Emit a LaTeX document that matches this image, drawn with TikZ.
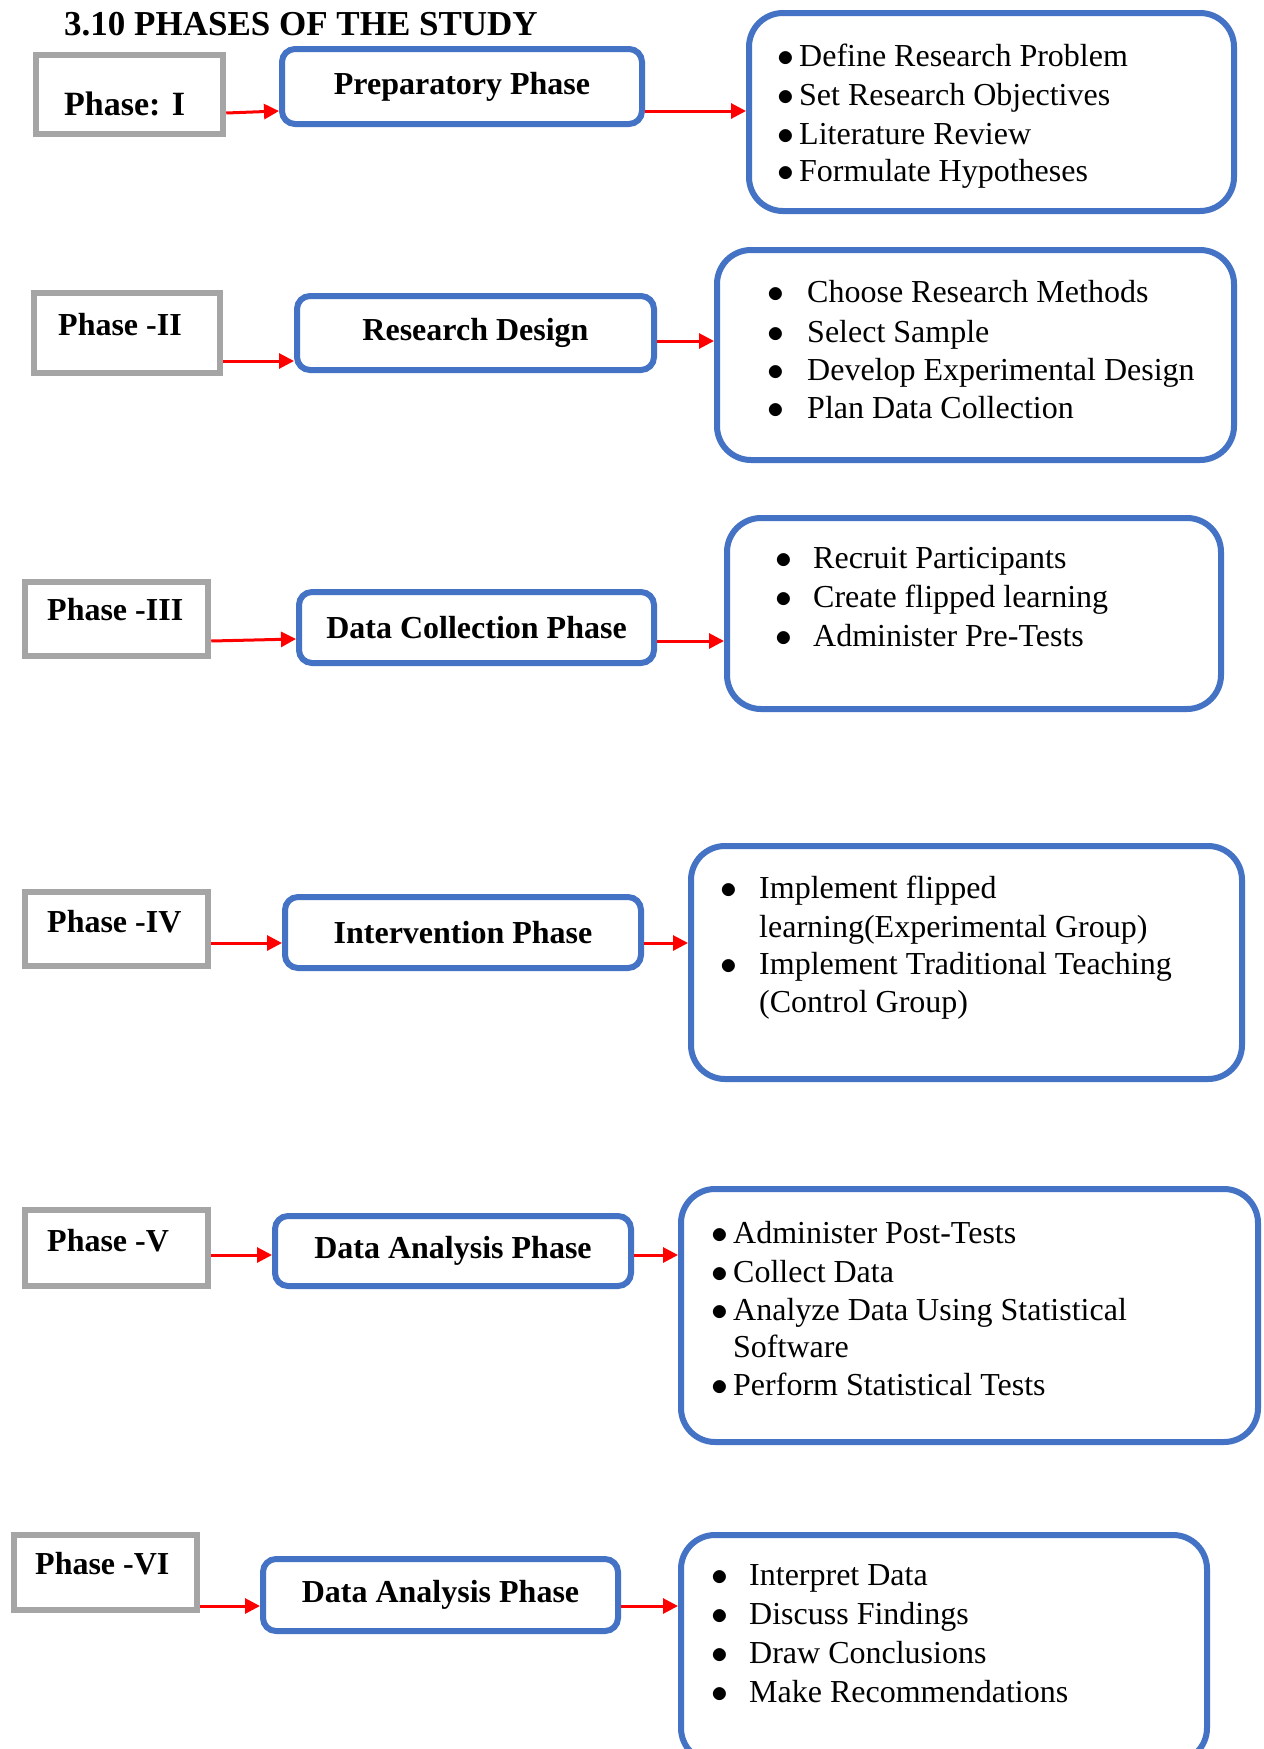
\documentclass[tikz,border=0pt]{standalone}
\usepackage{fontspec}
\setmainfont{Liberation Serif}
\usetikzlibrary{arrows.meta}
\definecolor{wblue}{HTML}{4472C4}
\definecolor{wgray}{HTML}{A5A5A5}
\newcommand\mybox[7]{\node[#1,minimum width={#4-#3-6},minimum height={#6-#5-6}] (#2) at ({(#3+#4)/2},{(#5+#6)/2}) {#7};}
\newcommand\blt{\scalebox{1.35}{$\bullet$}}
\newcommand\itm[5]{\node[itemtxt] (#1) at (#2,#4) {\makebox[#3pt][l]{\blt}#5};}
\newcommand\cnt[4]{\node[itemtxt] (#1) at (#2,#3) {#4};}
\begin{document}
\begin{tikzpicture}[x=1pt,y=-1pt,
  graybox/.style={draw=wgray,line width=6.5pt,fill=white,inner sep=0pt},
  bluebox/.style={draw=wblue,line width=6pt,rounded corners=13pt,fill=white,inner sep=0pt,font=\fontsize{32}{38}\selectfont\bfseries},
  listbox/.style={draw=wblue,line width=6pt,rounded corners=34pt,fill=white,inner sep=0pt},
  phasetxt/.style={anchor=base west,inner sep=0pt,font=\fontsize{32}{38}\selectfont\bfseries},
  itemtxt/.style={anchor=base west,inner sep=0pt,font=\fontsize{32}{38}\selectfont},
  arr/.style={draw=red,line width=3pt,-{Triangle[length=15pt,width=15pt]}},
]
\useasboundingbox[fill=white] (0,0) rectangle (1264,1749);
\begin{scope}
\clip (0,0) rectangle (1264,1749);
\node[phasetxt,font=\fontsize{35}{40}\selectfont\bfseries] (title) at (64,35) {3.10 PHASES OF THE STUDY};

% phase label boxes
\mybox{graybox}{p1}{33}{226}{52}{137}{}
\mybox{graybox}{p2}{31}{223}{290}{376}{}
\mybox{graybox}{p3}{22}{211}{579}{659}{}
\mybox{graybox}{p4}{22}{211}{889}{969}{}
\mybox{graybox}{p5}{22}{211}{1207}{1289}{}
\mybox{graybox}{p6}{11}{200}{1532}{1613}{}
\node[phasetxt,font=\fontsize{34}{40}\selectfont\bfseries] (t1) at (64,115) {Phase: I};
\node[phasetxt] (t2) at (58,335) {Phase -II};
\node[phasetxt] (t3) at (47,620) {Phase -III};
\node[phasetxt] (t4) at (47,932) {Phase -IV};
\node[phasetxt] (t5) at (47,1251) {Phase -V};
\node[phasetxt] (t6) at (35,1574) {Phase -VI};

% phase name boxes
\mybox{bluebox}{b1}{279}{645}{46}{127}{Preparatory Phase}
\mybox{bluebox}{b2}{294}{657}{293}{373}{Research Design}
\mybox{bluebox}{b3}{296}{657}{589}{666}{Data Collection Phase}
\mybox{bluebox}{b4}{282}{644}{894}{971}{Intervention Phase}
\mybox{bluebox}{b5}{272}{634}{1213}{1289}{Data Analysis Phase}
\mybox{bluebox}{b6}{260}{621}{1556}{1634}{Data Analysis Phase}

% activity boxes
\mybox{listbox}{l1}{746}{1237}{10}{214}{}
\mybox{listbox}{l2}{714}{1237}{247}{463}{}
\mybox{listbox}{l3}{724}{1224}{515}{712}{}
\mybox{listbox}{l4}{688}{1245}{843}{1082}{}
\mybox{listbox}{l5}{678}{1261}{1186}{1445}{}
\mybox{listbox}{l6}{678}{1210}{1532}{1765}{}

% items
\itm{i1a}{777}{22}{66}{Define Research Problem}
\itm{i1b}{777}{22}{105}{Set Research Objectives}
\itm{i1c}{777}{22}{144}{Literature Review}
\itm{i1d}{777}{22}{181}{Formulate Hypotheses}

\itm{i2a}{767}{40}{302}{Choose Research Methods}
\itm{i2b}{767}{40}{342}{Select Sample}
\itm{i2c}{767}{40}{380}{Develop Experimental Design}
\itm{i2d}{767}{40}{418}{Plan Data Collection}

\itm{i3a}{775}{38}{568}{Recruit Participants}
\itm{i3b}{775}{38}{607}{Create flipped learning}
\itm{i3c}{775}{38}{646}{Administer Pre-Tests}

\itm{i4a}{720}{39}{898}{Implement flipped}
\cnt{i4b}{759}{937}{learning(Experimental Group)}
\itm{i4c}{720}{39}{974}{Implement Traditional Teaching}
\cnt{i4d}{759}{1012}{(Control Group)}

\itm{i5a}{711}{22}{1243}{Administer Post-Tests}
\itm{i5b}{711}{22}{1282}{Collect Data}
\itm{i5c}{711}{22}{1320}{Analyze Data Using Statistical}
\cnt{i5d}{733}{1357}{Software}
\itm{i5e}{711}{22}{1395}{Perform Statistical Tests}

\itm{i6a}{711}{38}{1585}{Interpret Data}
\itm{i6b}{711}{38}{1624}{Discuss Findings}
\itm{i6c}{711}{38}{1663}{Draw Conclusions}
\itm{i6d}{711}{38}{1702}{Make Recommendations}

% connectors
\draw[arr] (p1.east |- 0,113) -- (b1.west |- 0,111);
\draw[arr] (b1.east |- 0,111) -- (l1.west |- 0,111);
\draw[arr] (p2.east |- 0,361) -- (b2.west |- 0,361);
\draw[arr] (b2.east |- 0,341) -- (l2.west |- 0,341);
\draw[arr] (p3.east |- 0,641) -- (b3.west |- 0,639);
\draw[arr] (b3.east |- 0,641) -- (l3.west |- 0,641);
\draw[arr] (p4.east |- 0,943) -- (b4.west |- 0,943);
\draw[arr] (b4.east |- 0,943) -- (l4.west |- 0,943);
\draw[arr] (p5.east |- 0,1255) -- (b5.west |- 0,1255);
\draw[arr] (b5.east |- 0,1255) -- (l5.west |- 0,1255);
\draw[arr] (p6.east |- 0,1606) -- (b6.west |- 0,1606);
\draw[arr] (b6.east |- 0,1606) -- (l6.west |- 0,1606);
\end{scope}
\end{tikzpicture}
\end{document}
